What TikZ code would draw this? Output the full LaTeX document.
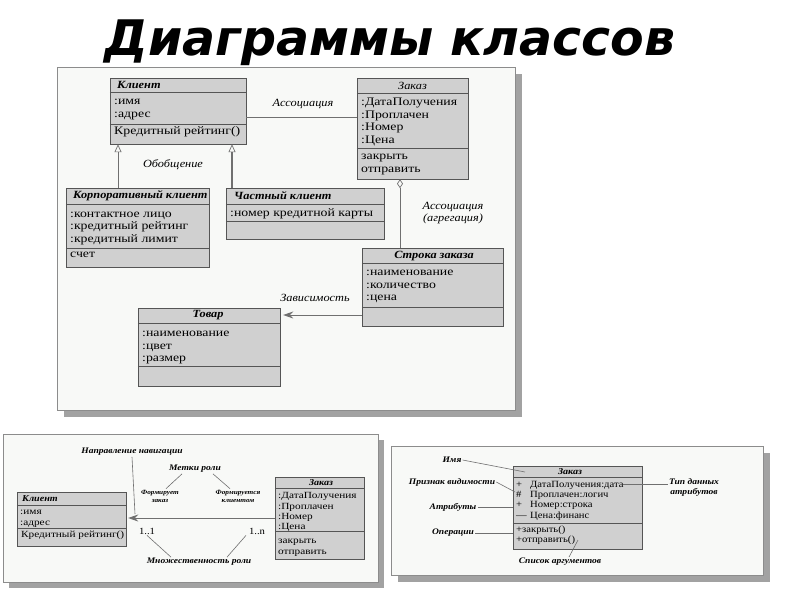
\documentclass[tikz,border=0pt]{standalone}
\usepackage{fontspec}
\setmainfont{Liberation Serif}
\newfontfamily\umlfont{Liberation Serif}[FakeStretch=1.12]
\newfontfamily\memberfont{Liberation Serif}[FakeStretch=1.2]
\newfontfamily\titlefont{DejaVu Sans}[BoldItalicFont={DejaVu Sans Bold Oblique}]
\usetikzlibrary{calc,fit,arrows.meta}
\definecolor{framebg}{HTML}{F8F9F7}
\definecolor{frameline}{HTML}{8C8C8C}
\definecolor{shadowgray}{HTML}{A2A2A2}
\definecolor{boxfill}{HTML}{D0D0D0}
\definecolor{boxline}{HTML}{555555}
\definecolor{linkgray}{HTML}{707070}
\newcommand{\umlclass}[5]{%
  \node[umlbox,fit={(#2) (#3)}] (#1) {};
  \draw[cmpline] (#1.west |- 0,#4) -- (#1.east |- 0,#4);
  \draw[cmpline] (#1.west |- 0,#5) -- (#1.east |- 0,#5);
}
\newcommand{\panel}[3]{%
  \fill[shadowgray] ($(#1)+(#3,#3)$) rectangle ($(#2)+(#3,#3)$);
  \filldraw[fill=framebg,draw=frameline] (#1) rectangle (#2);
}

\begin{document}
\begin{tikzpicture}[x=1pt,y=-1pt,
  umlbox/.style={draw=boxline,fill=boxfill,inner sep=0pt},
  cmpline/.style={draw=boxline},
  clsname/.style={font=\umlfont\fontsize{11}{12}\selectfont\bfseries\itshape,inner sep=0pt},
  members/.style={font=\memberfont\fontsize{11.5}{12.7}\selectfont,align=left,anchor=north west,inner sep=0pt},
  smallname/.style={font=\umlfont\fontsize{9}{10}\selectfont\bfseries\itshape,inner sep=0pt},
  smallmembers/.style={font=\umlfont\fontsize{9.5}{10.4}\selectfont,align=left,anchor=north west,inner sep=0pt},
  navmembers/.style={font=\memberfont\fontsize{9.4}{10.3}\selectfont,align=left,anchor=north west,inner sep=0pt},
  linklabel/.style={font=\umlfont\fontsize{11}{12}\selectfont\itshape,align=center,inner sep=1pt},
  notelabel/.style={font=\umlfont\fontsize{8.5}{10}\selectfont\bfseries\itshape,align=center,inner sep=1pt},
  link/.style={draw=linkgray,line width=0.9pt},
  thinlink/.style={draw=linkgray,line width=0.6pt}]
\useasboundingbox (0,0) rectangle (800,600);
\fill[white] (0,0) rectangle (800,600);
\node[font=\titlefont\fontsize{49}{52}\selectfont\bfseries\itshape,anchor=base] (title) at (390,55) {Диаграммы классов};

\panel{57,67}{515,410}{7}
\umlclass{klient}{110,78}{246,144}{92}{124}
\node[clsname,anchor=west] (klient-n) at (117,85) {Клиент};
\node[members] (klient-a) at (114,95.6) {\strut:имя\\:адрес};
\node[members] (klient-o) at (114,125.6) {\strut Кредитный рейтинг()};
\umlclass{zakaz}{357,78}{468,179}{93}{148}
\node[clsname,font=\umlfont\fontsize{11}{12}\selectfont\itshape] (zakaz-n) at (412.5,85.5) {Заказ};
\node[members] (zakaz-a) at (361,96.3) {\strut:ДатаПолучения\\:Проплачен\\:Номер\\:Цена};
\node[members] (zakaz-o) at (361,150.6) {\strut закрыть\\отправить};
\umlclass{korp}{66,188}{209,267}{204}{248}
\node[clsname,anchor=west] (korp-n) at (73,195.5) {Корпоративный клиент};
\node[members] (korp-a) at (70,208) {\strut:контактное лицо\\:кредитный рейтинг\\:кредитный лимит};
\node[members] (korp-o) at (70,248.6) {\strut счет};
\umlclass{chast}{226,188}{384,239}{204}{221}
\node[clsname,anchor=west] (chast-n) at (234,195.5) {Частный клиент};
\node[members] (chast-a) at (230,207.6) {\strut:номер кредитной карты};
\umlclass{stroka}{362,248}{503,326}{263}{307}
\node[clsname] (stroka-n) at (434,256) {Строка заказа};
\node[members] (stroka-a) at (366,266.3) {\strut:наименование\\:количество\\:цена};
\umlclass{tovar}{138,308}{280,386}{323}{366}
\node[clsname] (tovar-n) at (208,315.5) {Товар};
\node[members] (tovar-a) at (142,327.3) {\strut:наименование\\:цвет\\:размер};

\coordinate (assoc-l) at ([yshift=-6pt]klient.east);
\draw[link] (assoc-l) -- (assoc-l -| zakaz.west);
\node[linklabel] (assoc) at (303,104) {Ассоциация};
\draw[thinlink,-{Triangle[open,length=8pt,width=7pt,line width=0.7pt]}] (korp.north -| 118,0) -- (klient.south -| 118,0);
\draw[link,line width=1.8pt,-{Triangle[open,length=8pt,width=7pt,line width=0.7pt]}] (chast.north -| 232,0) -- (klient.south -| 232,0);
\node[linklabel] (general) at (173,165) {Обобщение};
\draw[thinlink,{Diamond[open,length=9pt,width=6pt,line width=0.7pt]}-] (zakaz.south -| 400,0) -- (stroka.north -| 400,0);
\node[linklabel] (aggr) at (453,213) {Ассоциация\\(агрегация)};
\draw[link,shorten >=3pt,-{Stealth[length=10pt,width=7pt]}] (stroka.west |- 0,315) -- (tovar.east |- 0,315);
\node[linklabel] (depend) at (315,298) {Зависимость};

\panel{3,434}{378,582}{6}
\umlclass{klient2}{17,492}{126,546}{505}{528}
\node[smallname,anchor=west] (klient2-n) at (22,498.5) {Клиент};
\node[navmembers] (klient2-a) at (20,507.5) {\strut:имя\\:адрес};
\node[navmembers] (klient2-o) at (21,530.5) {\strut Кредитный рейтинг()};
\umlclass{zakaz2}{275,477}{364,559}{488}{531}
\node[smallname] (zakaz2-n) at (321,482.5) {Заказ};
\node[navmembers] (zakaz2-a) at (278,491.5) {\strut:ДатаПолучения\\:Проплачен\\:Номер\\:Цена};
\node[navmembers] (zakaz2-o) at (278,536.5) {\strut закрыть\\отправить};
\draw[link,shorten >=2pt,-{Stealth[length=10pt,width=7pt]}] (zakaz2.west |- 0,518) -- (klient2.east |- 0,518);
\node[notelabel] (navlbl) at (132,452) {Направление навигации};
\coordinate (navend) at (135,514);
\draw[thinlink] (navlbl.south) -- (navend);
\node[notelabel] (roles) at (195,469) {Метки роли};
\node[notelabel,font=\umlfont\fontsize{6.5}{8}\selectfont\bfseries\itshape] (role1) at (160,496) {Формирует\\заказ};
\node[notelabel,font=\umlfont\fontsize{6.5}{8}\selectfont\bfseries\itshape] (role2) at (238,496) {Формируется\\клиентом};
\draw[thinlink] ([xshift=-13pt]roles.south) -- ([xshift=6pt]role1.north);
\draw[thinlink] ([xshift=18pt]roles.south) -- ([xshift=-8pt]role2.north);
\node[font=\umlfont\fontsize{9.5}{10}\selectfont,inner sep=1pt] (mult1) at (147,531) {1..1};
\node[font=\umlfont\fontsize{9.5}{10}\selectfont,inner sep=1pt] (multn) at (257,531) {1..n};
\node[notelabel] (multlbl) at (199,562) {Множественность роли};
\draw[thinlink] (mult1.south) -- ([xshift=-28pt]multlbl.north);
\draw[thinlink] ([xshift=-11pt]multn.south) -- ([xshift=28pt]multlbl.north);

\panel{391,446}{763,575}{7}
\umlclass{zakaz3}{513,466}{642,549}{477}{523}
\node[smallname] (zakaz3-n) at (570,472) {Заказ};
\node[smallmembers] (zakaz3-a) at (516,479.6) {\strut\makebox[14pt][l]{+}ДатаПолучения:дата\\\makebox[14pt][l]{\#}Проплачен:логич\\\makebox[14pt][l]{+}Номер:строка\\\makebox[14pt][l]{—}Цена:финанс};
\node[smallmembers] (zakaz3-o) at (516,524.6) {\strut+закрыть()\\+отправить()};
\node[notelabel] (lblname) at (452,460) {Имя};
\coordinate (nameend) at (525,472);
\draw[thinlink] (lblname.east) -- (nameend);
\node[notelabel] (lblvis) at (452,482) {Признак видимости};
\coordinate (visend) at (515,492);
\draw[thinlink] (lblvis.east) -- (visend);
\node[notelabel] (lblattr) at (453,507) {Атрибуты};
\draw[thinlink] (lblattr.east) -- (zakaz3.west |- lblattr.east);
\node[notelabel] (lblops) at (453,533) {Операции};
\draw[thinlink] (lblops.east) -- (zakaz3.west |- lblops.east);
\node[notelabel] (lbltype) at (694,487) {Тип данных\\атрибутов};
\coordinate (typeend) at (623,484);
\draw[thinlink] (typeend) -- (typeend -| lbltype.west);
\node[notelabel] (lblargs) at (560,562) {Список аргументов};
\coordinate (argsend) at (578,540);
\draw[thinlink] ([xshift=9pt]lblargs.north) -- (argsend);
\end{tikzpicture}
\end{document}
